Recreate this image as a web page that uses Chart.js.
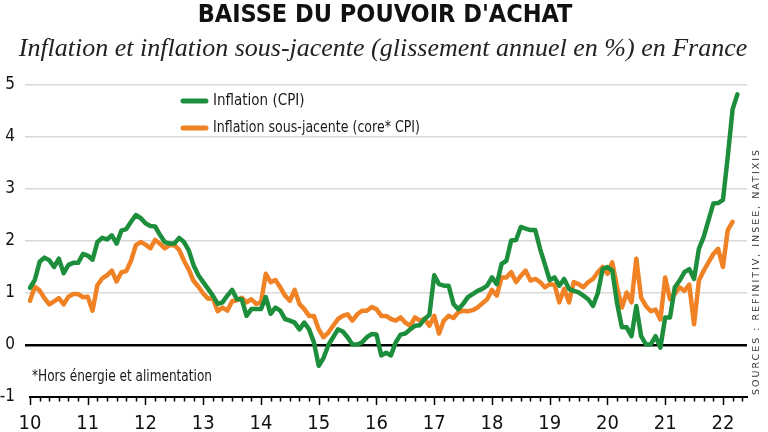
<!DOCTYPE html>
<html><head><meta charset="utf-8">
<script src="https://cdn.jsdelivr.net/npm/chart.js@4"></script>
<style>html,body{margin:0;padding:0;background:#fff}#wrap{width:768px;height:432px}</style>
</head><body><div id="wrap"><canvas id="c" width="768" height="432"></canvas></div>
<script>
const yearLabels = ['10','11','12','13','14','15','16','17','18','19','20','21','22'];
const monthNames = ['01','02','03','04','05','06','07','08','09','10','11','12'];
// monthly categories Jan 2010 .. Jun 2022
const categories = [];
yearLabels.forEach(y => monthNames.forEach(m => categories.push('20' + y + '-' + m)));
categories.length = 150;

// Inflation (CPI), % y/y, Jan 2010 .. Apr 2022
const cpi = [
 1.10,1.25,1.60,1.68,1.63,1.50,1.66,1.38,1.54,1.58,1.58,1.75,
 1.72,1.64,1.98,2.06,2.03,2.11,1.95,2.20,2.23,2.37,2.50,2.44,
 2.34,2.29,2.28,2.12,1.98,1.95,1.95,2.06,1.98,1.82,1.53,1.34,
 1.21,1.08,0.95,0.79,0.82,0.95,1.06,0.88,0.88,0.56,0.69,0.69,
 0.69,0.92,0.60,0.72,0.66,0.50,0.47,0.43,0.30,0.43,0.30,0.05,
 -0.40,-0.25,0.00,0.15,0.30,0.26,0.15,0.01,0.01,0.05,0.15,0.21,
 0.20,-0.20,-0.15,-0.20,0.05,0.20,0.22,0.30,0.37,0.38,0.50,0.58,
 1.34,1.17,1.14,1.14,0.79,0.69,0.79,0.92,0.98,1.04,1.08,1.14,
 1.30,1.17,1.56,1.62,2.01,2.02,2.27,2.24,2.21,2.21,1.85,1.55,
 1.25,1.30,1.14,1.27,1.08,1.04,1.01,0.95,0.88,0.75,1.00,1.46,
 1.50,1.43,0.80,0.34,0.34,0.17,0.75,0.17,0.01,0.01,0.17,-0.05,
 0.53,0.53,1.11,1.24,1.40,1.46,1.27,1.85,2.08,2.40,2.72,2.73,
 2.79,3.62,4.53,4.82
];
// Inflation sous-jacente (core CPI), % y/y, Jan 2010 .. Mar 2022
const core = [
 0.85,1.12,1.05,0.90,0.78,0.84,0.90,0.78,0.93,0.98,0.98,0.92,
 0.93,0.66,1.15,1.28,1.34,1.43,1.22,1.40,1.42,1.62,1.92,1.98,
 1.93,1.86,2.02,1.95,1.86,1.92,1.92,1.83,1.62,1.45,1.23,1.12,
 0.99,0.89,0.90,0.65,0.72,0.66,0.84,0.86,0.91,0.82,0.88,0.79,
 0.82,1.37,1.21,1.25,1.11,0.95,0.85,1.06,0.79,0.69,0.56,0.56,
 0.30,0.15,0.24,0.37,0.50,0.56,0.59,0.47,0.59,0.66,0.66,0.73,
 0.69,0.56,0.56,0.50,0.47,0.53,0.43,0.37,0.53,0.47,0.50,0.37,
 0.56,0.22,0.47,0.56,0.52,0.63,0.66,0.65,0.67,0.72,0.80,0.88,
 1.06,0.95,1.30,1.30,1.40,1.21,1.33,1.43,1.24,1.27,1.21,1.11,
 1.17,1.16,0.82,1.08,0.82,1.21,1.17,1.11,1.21,1.27,1.40,1.50,
 1.37,1.59,1.11,0.72,1.01,0.82,1.66,0.91,0.75,0.65,0.68,0.49,
 1.30,0.88,0.98,1.11,1.04,1.16,0.40,1.24,1.43,1.59,1.75,1.85,
 1.50,2.21,2.37
];
const seriesNames = ['Inflation (CPI)', 'Inflation sous-jacente (core* CPI)'];
const titleText = "BAISSE DU POUVOIR D'ACHAT";
const subtitleText = 'Inflation et inflation sous-jacente (glissement annuel en %) en France';
const footnote = '*Hors énergie et alimentation';
const sourceText = 'SOURCES : REFINITIV, INSEE, NATIXIS';

const GREEN = '#1d8f3c';
const ORANGE = '#f08124';
const NARROW = "'Liberation Sans Narrow', 'DejaVu Sans Condensed', 'Liberation Sans', sans-serif";

// draw text squeezed horizontally to a target width (condensed look)
function fitText(ctx, text, x, y, targetW) {
  const w = ctx.measureText(text).width;
  const k = Math.min(1, targetW / w);
  ctx.save(); ctx.translate(x, y); ctx.scale(k, 1); ctx.fillText(text, 0, 0); ctx.restore();
}

const deco = {
  id: 'deco',
  afterDraw(chart) {
    const ctx = chart.ctx, xs = chart.scales.x, area = chart.chartArea;
    ctx.save();
    // title + subtitle
    ctx.textAlign = 'center'; ctx.textBaseline = 'alphabetic';
    ctx.fillStyle = '#111';
    ctx.font = "bold 25px " + NARROW;
    ctx.fillText(titleText, 385, 22);
    ctx.fillStyle = '#222';
    ctx.font = "italic 26px 'Liberation Serif', serif";
    ctx.fillText(subtitleText, 383, 56);
    // x-axis tick marks (every 2 months, long at years)
    ctx.strokeStyle = '#000'; ctx.lineWidth = 1.5;
    for (let i = 0; i < categories.length; i += 2) {
      const x = Math.round(xs.getPixelForValue(i)) + 0.5;
      const len = (i % 12 === 0) ? 8 : 4.5;
      ctx.beginPath(); ctx.moveTo(x, area.bottom); ctx.lineTo(x, area.bottom + len); ctx.stroke();
    }
    // legend
    const items = [[GREEN, seriesNames[0], 101, 93], [ORANGE, seriesNames[1], 128, 207]];
    ctx.font = "15px " + NARROW; ctx.textBaseline = 'middle'; ctx.textAlign = 'left';
    items.forEach(([c, t, y, w]) => {
      ctx.strokeStyle = c; ctx.lineWidth = 5; ctx.lineCap = 'round';
      ctx.beginPath(); ctx.moveTo(183, y); ctx.lineTo(206, y); ctx.stroke();
      ctx.fillStyle = '#1a1a1a'; fitText(ctx, t, 213, y, w);
    });
    // footnote
    ctx.fillStyle = '#1a1a1a';
    ctx.font = "15px " + NARROW;
    fitText(ctx, footnote, 32, 377, 180);
    // vertical source
    ctx.translate(757, 395); ctx.rotate(-Math.PI / 2);
    ctx.font = "9.5px 'DejaVu Sans', sans-serif";
    const w0 = ctx.measureText(sourceText).width;
    const ls = Math.max(0, (245 - w0) / (sourceText.length - 1));
    ctx.letterSpacing = ls + 'px';
    ctx.fillStyle = '#333'; ctx.textBaseline = 'middle'; ctx.textAlign = 'left';
    ctx.fillText(sourceText, 0, 0);
    ctx.restore();
  }
};

new Chart(document.getElementById('c'), {
  type: 'line',
  data: {
    labels: categories,
    datasets: [
      { label: seriesNames[0], data: cpi, borderColor: GREEN, backgroundColor: GREEN, borderWidth: 4.5,
        pointRadius: 0, tension: 0, borderJoinStyle: 'round', borderCapStyle: 'round' },
      { label: seriesNames[1], data: core, borderColor: ORANGE, backgroundColor: ORANGE, borderWidth: 4.5,
        pointRadius: 0, tension: 0, borderJoinStyle: 'round', borderCapStyle: 'round' }
    ]
  },
  options: {
    responsive: false, animation: false, devicePixelRatio: 1,
    layout: { padding: { left: 0, right: 21, top: 85, bottom: 0 } },
    plugins: {
      legend: { display: false }, tooltip: { enabled: false },
      title: { display: false }, subtitle: { display: false }
    },
    scales: {
      x: { type: 'category', offset: false,
        grid: { display: false, drawTicks: false },
        border: { display: true, color: '#000', width: 2 },
        ticks: { autoSkip: false, maxRotation: 0, minRotation: 0, padding: 15, color: '#111',
          font: { family: NARROW, size: 20 },
          callback: (v, i) => (i % 12 === 0 ? yearLabels[i / 12] : '') },
        afterFit: s => { s.height = 35; } },
      y: { min: -1, max: 5,
        ticks: { stepSize: 1, padding: 10, color: '#111', font: { family: NARROW, size: 17 } },
        grid: {
          color: c => c.tick.value === 0 ? '#000' : (c.tick.value === -1 ? 'rgba(0,0,0,0)' : '#d8d8d8'),
          tickColor: c => c.tick.value === 0 ? '#000' : (c.tick.value === -1 ? 'rgba(0,0,0,0)' : '#d8d8d8'),
          lineWidth: c => c.tick.value === 0 ? 2.5 : 1.5, tickLength: 5 },
        border: { display: false },
        afterFit: s => { s.width = 30; } }
    }
  },
  plugins: [deco]
});
</script>
</body></html>
